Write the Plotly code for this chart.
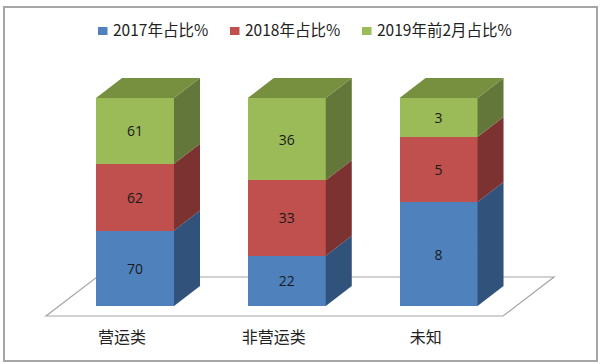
import plotly.graph_objects as go

categories = ["营运类", "非营运类", "未知"]
s2017 = [70, 22, 8]
s2018 = [62, 33, 5]
s2019 = [61, 36, 3]
series_names = ["2017年占比%", "2018年占比%", "2019年前2月占比%"]

series = [s2017, s2018, s2019]
front = ["#4f81bd", "#c0504d", "#9bbb59"]
side = ["#31527b", "#7c3230", "#627739"]
top_face = "#77903f"
positions = list(range(len(categories)))
BAR_W = 0.514
DX, DY = 0.1713, 9.615
CJK = "Noto Sans CJK SC"
W, H, M_T, M_B = 600, 364, 70, 38
legend_swatch_left = [98, 230, 362]


def px(x):
    return x / W


def py(y):
    return (H - M_B - y) / (H - M_B - M_T)


totals = [sum(s[i] for s in series) for i in positions]

fig = go.Figure()
for s, name, c in zip(series, series_names, front):
    fig.add_trace(go.Bar(
        x=positions, y=s, name=name, marker=dict(color=c, line=dict(width=0)),
        width=BAR_W, text=s, textposition="inside", insidetextanchor="middle",
        textangle=0, constraintext="none", showlegend=False,
        textfont=dict(family="Open Sans", size=14, color="#1a1a1a"),
    ))

base = [0.0] * len(positions)
for k, (s, c) in enumerate(zip(series, side)):
    xs, ys = [], []
    for i in positions:
        h = s[i] / totals[i] * 100
        r = i + BAR_W / 2
        xs += [r, r + DX, r + DX, r, r, None]
        ys += [base[i], base[i] + DY, base[i] + h + DY, base[i] + h, base[i], None]
        base[i] += h
    fig.add_trace(go.Scatter(x=xs, y=ys, mode="lines", fill="toself", fillcolor=c,
                             line=dict(width=0), showlegend=False, hoverinfo="skip"))

xs, ys = [], []
for i in positions:
    l, r = i - BAR_W / 2, i + BAR_W / 2
    xs += [l, l + DX, r + DX, r, l, None]
    ys += [100, 100 + DY, 100 + DY, 100, 100, None]
fig.add_trace(go.Scatter(x=xs, y=ys, mode="lines", fill="toself", fillcolor=top_face,
                         line=dict(width=0), showlegend=False, hoverinfo="skip"))

shapes = [
    dict(type="path", xref="x", yref="y", layer="below",
         path="M -0.5865 -4.8 L 2.425 -4.8 L 2.761 13.94 L -0.2508 13.94 Z",
         line=dict(color="#a6a6a6", width=1.2), fillcolor="white"),
    dict(type="rect", xref="paper", yref="paper", layer="below",
         x0=px(4), x1=px(597), y0=py(361), y1=py(7),
         line=dict(color="#a6a6a6", width=2), fillcolor="rgba(0,0,0,0)"),
]
annotations = []
for left, name, c in zip(legend_swatch_left, series_names, front):
    shapes.append(dict(type="rect", xref="paper", yref="paper",
                       x0=px(left), x1=px(left + 9.5), y0=py(35), y1=py(27),
                       line=dict(width=0), fillcolor=c))
    annotations.append(dict(xref="paper", yref="paper", x=px(left + 13.5), y=py(29),
                            xanchor="left", yanchor="middle", xshift=0, showarrow=False,
                            text=name, borderpad=0,
                            font=dict(family=CJK, size=15.5, color="#222222")))

fig.update_layout(
    width=W, height=H, barmode="stack", barnorm="percent",
    margin=dict(l=0, r=0, t=M_T, b=M_B),
    paper_bgcolor="white", plot_bgcolor="rgba(0,0,0,0)",
    font=dict(family=CJK, color="#222222"),
    bargap=0.486, showlegend=False,
    xaxis=dict(range=[-0.8896, 3.064], showgrid=False, zeroline=False, showline=False,
               tickmode="array", tickvals=[p - 0.085 for p in positions],
               ticktext=categories, ticks="", tickfont=dict(family=CJK, size=16, color="#222222")),
    yaxis=dict(range=[-9.615, 113.46], visible=False),
    shapes=shapes, annotations=annotations,
)
fig.write_html("out.html", config={"displayModeBar": False},
               post_script="document.body.style.margin='0';document.documentElement.style.overflow='hidden';")
